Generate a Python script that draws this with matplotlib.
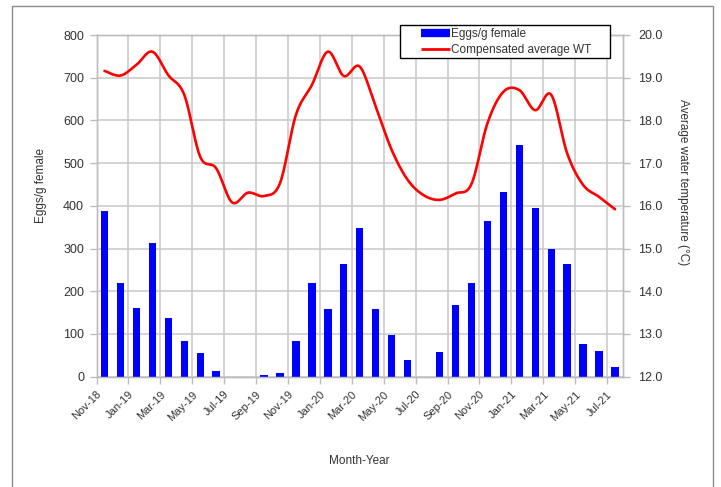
import numpy as np
import matplotlib
matplotlib.use("Agg")
import matplotlib.pyplot as plt
from matplotlib.patches import Rectangle
from matplotlib.lines import Line2D

# ---------------- data ----------------
months = ["Nov-18", "Dec-18", "Jan-19", "Feb-19", "Mar-19", "Apr-19", "May-19", "Jun-19",
          "Jul-19", "Aug-19", "Sep-19", "Oct-19", "Nov-19", "Dec-19", "Jan-20", "Feb-20",
          "Mar-20", "Apr-20", "May-20", "Jun-20", "Jul-20", "Aug-20", "Sep-20", "Oct-20",
          "Nov-20", "Dec-20", "Jan-21", "Feb-21", "Mar-21", "Apr-21", "May-21", "Jun-21",
          "Jul-21"]
eggs = [389, 220, 162, 314, 137, 83, 56, 13, 0, 0, 5, 9, 83, 220, 159, 264,
        349, 158, 98, 38, 0, 57, 168, 220, 364, 433, 542, 396, 298, 263, 76, 59, 22]
water_temp = [19.16, 19.05, 19.30, 19.61, 19.06, 18.60, 17.15, 16.88, 16.08, 16.31,
              16.23, 16.53, 18.13, 18.83, 19.61, 19.04, 19.26, 18.32, 17.31, 16.61,
              16.25, 16.14, 16.29, 16.51, 17.93, 18.67, 18.71, 18.24, 18.60, 17.23,
              16.49, 16.21, 15.92]
left_ticks = [0, 100, 200, 300, 400, 500, 600, 700, 800]
right_ticks = [12.0, 13.0, 14.0, 15.0, 16.0, 17.0, 18.0, 19.0, 20.0]

plt.rcParams['font.family'] = ['Liberation Sans', 'DejaVu Sans']

W, H = 721, 487
fig = plt.figure(figsize=(W / 100, H / 100), dpi=100)
fig.patch.set_facecolor('white')

# outer chart frame
fig.patches.append(Rectangle((12 / W, -0.05), (713 - 12) / W, 1.05 - 6 / H,
                             transform=fig.transFigure, fill=False,
                             edgecolor='#8c8c8c', linewidth=1.0))

ax = fig.add_axes([96.5 / W, 1 - 376.7 / H, (623 - 96.5) / W, (376.7 - 35) / H])
ax2 = ax.twinx()

n = len(months)
xc = np.arange(n) + 0.5
ax.bar(xc, eggs, width=0.46, color='#0000FF', zorder=3)

# smooth (Excel-like Bezier) curve through the data points
xs = np.asarray(xc, float)
ys = np.asarray(water_temp, float)
px, py = [], []
for i in range(n - 1):
    x0, x1 = xs[max(i - 1, 0)], xs[i]
    x2, x3 = xs[i + 1], xs[min(i + 2, n - 1)]
    y0, y1 = ys[max(i - 1, 0)], ys[i]
    y2, y3 = ys[i + 1], ys[min(i + 2, n - 1)]
    c1x, c1y = x1 + (x2 - x0) / 6, y1 + (y2 - y0) / 6
    c2x, c2y = x2 - (x3 - x1) / 6, y2 - (y3 - y1) / 6
    t = np.linspace(0, 1, 30)
    bx = (1 - t) ** 3 * x1 + 3 * (1 - t) ** 2 * t * c1x + 3 * (1 - t) * t ** 2 * c2x + t ** 3 * x2
    by = (1 - t) ** 3 * y1 + 3 * (1 - t) ** 2 * t * c1y + 3 * (1 - t) * t ** 2 * c2y + t ** 3 * y2
    px.extend(bx)
    py.extend(by)
ax2.plot(px, py, color='#FF0000', linewidth=1.9, zorder=4, solid_capstyle='round')

ax.set_xlim(0, n)
ax.set_ylim(0, 800)
ax2.set_ylim(12, 20)
ax.set_yticks(left_ticks)
ax.set_yticklabels([str(v) for v in left_ticks])
ax2.set_yticks(right_ticks)
ax2.set_yticklabels([f"{v:.1f}" for v in right_ticks])

tick_pos = np.arange(0, n, 2)
ax.set_xticks(tick_pos)
ax.set_xticklabels([months[i] for i in tick_pos], rotation=45, ha='right', va='top',
                   rotation_mode='anchor', fontsize=8)

ax.grid(True, color='#c8c8c8', linewidth=1.1, zorder=0)
ax.set_axisbelow(True)

tc = '#333333'
for a in (ax, ax2):
    for s in a.spines.values():
        s.set_color('#bdbdbd')
        s.set_linewidth(1.0)
    a.tick_params(colors='#bdbdbd', labelcolor=tc, length=5, width=1.0)
ax.tick_params(axis='y', pad=4, labelsize=9)
ax.tick_params(axis='x', pad=4)
ax2.tick_params(axis='y', pad=6, labelsize=9)

ax.set_ylabel("Eggs/g female", fontsize=8.5, color=tc)
ax.yaxis.set_label_coords(-0.094, 0.56)
ax2.set_ylabel("Average water temperature (°C)", fontsize=8.5, color=tc, rotation=270)
ax2.yaxis.set_label_coords(1.125, 0.57)
ax.set_xlabel("Month-Year", fontsize=8.5, color=tc)
ax.xaxis.set_label_coords(0.5, -(455 - 376.7) / (376.7 - 35))

# legend (box drawn separately to match padding)
fig.patches.append(Rectangle((400 / W, 1 - 58 / H), 210 / W, 33 / H,
                             transform=fig.transFigure, facecolor='white',
                             edgecolor='black', linewidth=1.0, zorder=5))
handles = [Line2D([0], [0], color='#0000FF', linewidth=6, solid_capstyle='butt'),
           Line2D([0], [0], color='#FF0000', linewidth=2, solid_capstyle='butt')]
leg = fig.legend(handles, ["Eggs/g female", "Compensated average WT"],
                 loc='upper left', bbox_to_anchor=(413 / W, 1 - 20 / H),
                 frameon=False, fontsize=8.5, handlelength=2.4, handletextpad=0.15,
                 labelspacing=0.3, borderpad=0.2)
for t in leg.get_texts():
    t.set_color(tc)
leg.set_zorder(6)

fig.savefig("out.png", dpi=100)
